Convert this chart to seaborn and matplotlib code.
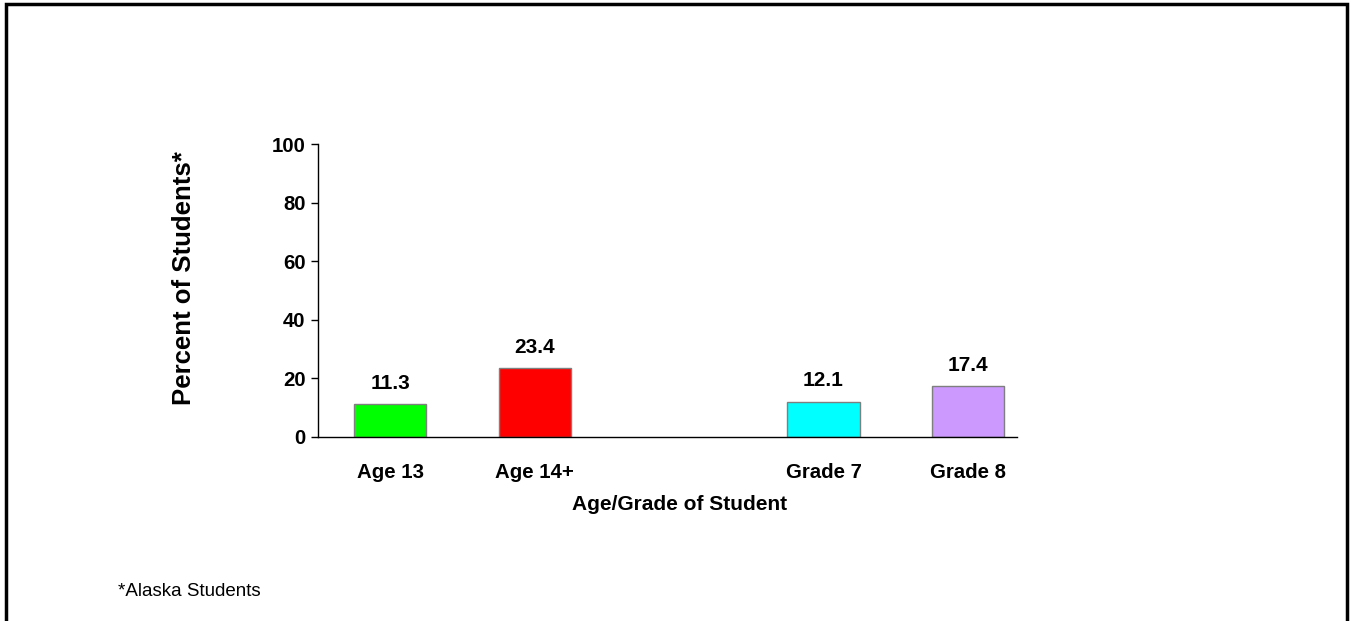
import numpy as np
import pandas as pd
import seaborn as sns
import matplotlib.pyplot as plt
from matplotlib.patches import Rectangle

# data
groups = ["Age 13", "Age 14+", "Grade 7", "Grade 8"]
percents = [11.3, 23.4, 12.1, 17.4]
bar_colors = ["#00FF00", "#FF0000", "#00FFFF", "#CC99FF"]
slot_order = ["Age 13", "Age 14+", " ", "Grade 7", "Grade 8"]
y_ticks = [0, 20, 40, 60, 80, 100]

df = pd.DataFrame({"group": groups, "pct": percents})

sns.set_style("white")
plt.rcParams['font.family'] = ['Liberation Sans', 'DejaVu Sans']
plt.rcParams['text.color'] = 'black'
plt.rcParams['xtick.color'] = 'black'
plt.rcParams['ytick.color'] = 'black'

fig = plt.figure(figsize=(13.51, 6.21), dpi=100)
ax = fig.add_axes([0.2354, 0.2963, 0.5174, 0.4718])

sns.barplot(data=df, x="group", y="pct", hue="group", order=slot_order,
            palette=dict(zip(groups, bar_colors)), width=0.5, legend=False,
            edgecolor="#7f7f7f", linewidth=1, saturation=1, ax=ax)

# value labels above bars
for i, g in enumerate(slot_order):
    if g in groups:
        v = percents[groups.index(g)]
        ax.annotate(f"{v:.1f}", (i, v), xytext=(0, 8), textcoords="offset points",
                    ha="center", va="bottom", fontsize=15, fontweight="bold")

ax.set_ylim(0, 100)
ax.set_xlim(-0.5, 4.34)
ax.set_yticks(y_ticks)
ax.set_yticklabels([str(t) for t in y_ticks], fontsize=14.7, fontweight="bold")
ax.set_xticks(range(len(slot_order)))
ax.set_xticklabels(slot_order, fontsize=14.7, fontweight="bold")
ax.tick_params(axis="x", length=0, pad=19)
ax.tick_params(axis="y", length=5, width=1, direction="out", left=True, pad=4)

for s in ["top", "right"]:
    ax.spines[s].set_visible(False)
for s in ["left", "bottom"]:
    ax.spines[s].set_color("black")
    ax.spines[s].set_linewidth(1)

ax.set_xlabel("")
ax.set_ylabel("")
fig.text(0.5033, 0.187, "Age/Grade of Student", ha="center", va="center",
         fontsize=15, fontweight="bold")
fig.text(0.1362, 0.553, "Percent of Students*", ha="center", va="center",
         rotation=90, fontsize=18.5, fontweight="bold")
fig.text(0.0873, 0.048, "*Alaska Students", ha="left", va="center", fontsize=13.5)

# frame around the slide
fig.patches.append(Rectangle((0.0048, -0.05), 0.9922, 1.043, transform=fig.transFigure,
                             fill=False, edgecolor="black", linewidth=2.5))

fig.savefig("out.png", dpi=100)
